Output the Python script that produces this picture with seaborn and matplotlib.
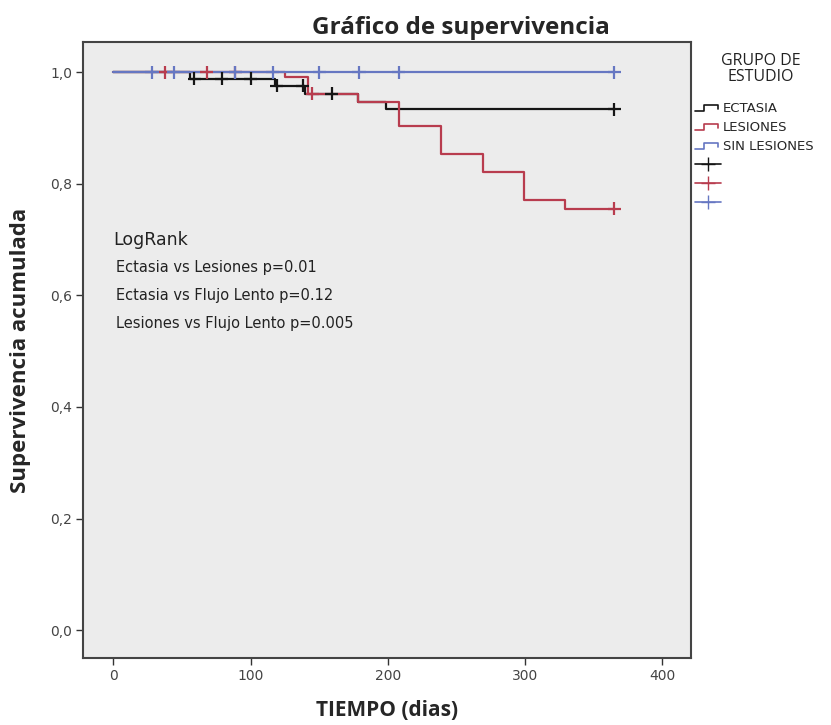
import matplotlib
matplotlib.use('Agg')
import matplotlib.pyplot as plt
from matplotlib.lines import Line2D
from matplotlib.legend_handler import HandlerBase
import numpy as np
import pandas as pd
import seaborn as sns

# Curvas de supervivencia (tiempo del cambio, valor desde ese tiempo)
ectasia_t = [0, 56, 118, 140, 178, 199, 365]
ectasia_s = [1.0, 0.988, 0.976, 0.961, 0.946, 0.933, 0.933]
lesiones_t = [0, 125, 142, 178, 208, 239, 269, 299, 329, 365]
lesiones_s = [1.0, 0.991, 0.961, 0.946, 0.903, 0.853, 0.821, 0.771, 0.755, 0.755]
sin_t = [0, 365]
sin_s = [1.0, 1.0]

# Casos censurados
ectasia_cens = [59, 79, 100, 119, 138, 159, 365]
lesiones_cens = [38, 68, 89, 145, 365]
sin_cens = [28, 44, 89, 116, 150, 179, 208, 365]

grupos = ['ECTASIA', 'LESIONES', 'SIN LESIONES']
colores = ['#151515', '#b83c4e', '#6677c2']
pruebas = ['Ectasia vs Lesiones p=0.01',
           'Ectasia vs Flujo Lento p=0.12',
           'Lesiones vs Flujo Lento p=0.005']

curvas = pd.concat([
    pd.DataFrame({'t': ectasia_t, 's': ectasia_s, 'grupo': 'ECTASIA'}),
    pd.DataFrame({'t': lesiones_t, 's': lesiones_s, 'grupo': 'LESIONES'}),
    pd.DataFrame({'t': sin_t, 's': sin_s, 'grupo': 'SIN LESIONES'}),
])


def valor_en(tiempos, valores, t):
    idx = np.searchsorted(tiempos, t, side='right') - 1
    return valores[idx]


cens = pd.concat([
    pd.DataFrame({'t': ectasia_cens, 's': [valor_en(ectasia_t, ectasia_s, c) for c in ectasia_cens], 'grupo': 'ECTASIA'}),
    pd.DataFrame({'t': lesiones_cens, 's': [valor_en(lesiones_t, lesiones_s, c) for c in lesiones_cens], 'grupo': 'LESIONES'}),
    pd.DataFrame({'t': sin_cens, 's': [valor_en(sin_t, sin_s, c) for c in sin_cens], 'grupo': 'SIN LESIONES'}),
])

sns.set_style('white')
plt.rcParams['font.family'] = ['Open Sans', 'DejaVu Sans']

fig = plt.figure(figsize=(8.31, 7.25), dpi=100)
ax = fig.add_axes([0.100, 0.0924, 0.731, 0.8497])
ax.set_facecolor('#ececec')

paleta = dict(zip(grupos, colores))
sns.lineplot(data=curvas, x='t', y='s', hue='grupo', palette=paleta, ax=ax,
             drawstyle='steps-post', linewidth=1.6, legend=False, estimator=None,
             sort=False)
sns.scatterplot(data=cens, x='t', y='s', hue='grupo', palette=paleta, ax=ax,
                marker='+', s=90, linewidth=1.6, legend=False, zorder=3)

ax.set_xlim(-22, 420.5)
ax.set_ylim(-0.05, 1.054)
ax.set_xticks([0, 100, 200, 300, 400])
ax.set_yticks([0, 0.2, 0.4, 0.6, 0.8, 1.0])
ax.set_yticklabels(['0,0', '0,2', '0,4', '0,6', '0,8', '1,0'])
ax.tick_params(axis='both', direction='out', length=5, width=1, color='#333333',
               labelsize=10, labelcolor='#444444', left=True, bottom=True, pad=3)
for lab in ax.get_xticklabels() + ax.get_yticklabels():
    lab.set_family('DejaVu Sans')
for sp in ax.spines.values():
    sp.set_color('#444444')
    sp.set_linewidth(1.5)

ax.set_xlabel('TIEMPO (dias)', fontsize=15, fontweight='bold', labelpad=12)
ax.set_ylabel('Supervivencia acumulada', fontsize=16, fontweight='bold', labelpad=14)
fig.text(0.555, 0.961, 'Gráfico de supervivencia', ha='center', va='center',
         fontsize=17.5, fontweight='bold')

# Texto LogRank
ax.text(0.0, 0.70, 'LogRank', fontsize=12.5, color='#222222', va='center',
        family='DejaVu Sans')
for i, p in enumerate(pruebas):
    ax.text(2, 0.649 - i * 0.05, p, fontsize=10.5, color='#222222', va='center',
            family='DejaVu Sans')


class HandlerPaso(HandlerBase):
    def create_artists(self, legend, orig, xd, yd, w, h, fontsize, trans):
        xs = [xd, xd + w * 0.35, xd + w * 0.35, xd + w * 0.9, xd + w * 0.9]
        ys = [yd + h * 0.1, yd + h * 0.1, yd + h * 0.75, yd + h * 0.75, yd + h * 0.35]
        ln = Line2D(xs, ys, color=orig.get_color(), linewidth=1.2, transform=trans)
        return [ln]


manijas = [Line2D([], [], color=c) for c in colores]
manijas += [Line2D([], [], color=c, marker='+', markersize=10, linewidth=1.2)
            for c in colores]
etiquetas = grupos + ['', '', '']
mapa = {m: HandlerPaso() for m in manijas[:3]}
leg = fig.legend(manijas, etiquetas, handler_map=mapa, loc='upper left',
                 bbox_to_anchor=(0.836, 0.859), frameon=False,
                 prop={'family': 'DejaVu Sans', 'size': 9.5},
                 handlelength=2.0, handletextpad=0.15, labelspacing=0.45,
                 borderaxespad=0, borderpad=0)
fig.text(0.916, 0.905, 'GRUPO DE\nESTUDIO', ha='center', va='center',
         fontsize=11.5, linespacing=1.0, color='#222222')

fig.savefig('out.png', dpi=100, facecolor='white')
